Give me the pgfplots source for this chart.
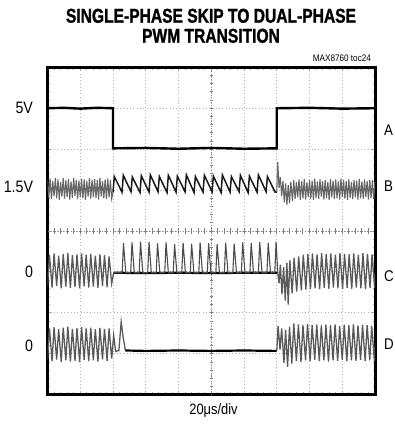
\documentclass[border=0pt]{standalone}
\usepackage{pgfplots}
\pgfplotsset{compat=1.18}
\usepackage{fontspec}
\setmainfont{Liberation Sans}
\newfontfamily\titlefont{Liberation Sans}[FakeStretch=0.78, BoldFeatures={FakeBold=1.2}]
\newfontfamily\narrowfont{Liberation Sans}[FakeStretch=0.86]

\begin{document}
\begin{tikzpicture}
\useasboundingbox (0pt,0pt) rectangle (395pt,426pt);
\begin{axis}[
  at={(47.5pt,31.3pt)}, anchor=south west,
  width=327.5pt, height=327.4pt, scale only axis,
  xmin=0, xmax=10, ymin=0, ymax=8,
  xtick={0,...,10}, ytick={0,...,8},
  xticklabels={}, yticklabels={},
  minor x tick num=4, minor y tick num=4,
  tick align=inside, major tick length=4pt, minor tick length=2.5pt,
  tick style={black!35, line width=0.9pt},
  grid=major,
  major grid style={black!30, line width=0.9pt, dash pattern=on 0.9pt off 2.4pt},
  axis line style={line width=3pt},
  clip=true,
]
% graticule centre lines with their sub-division marks
\draw[black!50, line width=1pt, dash pattern=on 1pt off 1.6pt] (axis cs:5,0) -- (axis cs:5,8);
\draw[black!50, line width=1pt, dash pattern=on 1pt off 1.6pt] (axis cs:0,4) -- (axis cs:10,4);
\pgfplotsinvokeforeach{0.2,0.4,...,9.8}{\draw[black!50, line width=0.9pt] (axis cs:#1,3.93) -- (axis cs:#1,4.07);}
\pgfplotsinvokeforeach{0.2,0.4,...,7.8}{\draw[black!50, line width=0.9pt] (axis cs:4.95,#1) -- (axis cs:5.05,#1);}

% A: mode control
\addplot[black, line width=2.4pt] coordinates {
(0,7.00)(0.5,7.01)(1,6.99)(1.5,7.01)(2.00,7.00)(2.00,6.02)(3,6.03)(4,6.01)(5,6.03)(6,6.01)(7.00,6.02)
(7.00,7.00)(8,7.01)(9,6.99)(10,7.00)};

% B: output ripple
\addplot[black!60, line width=1.1pt] coordinates {
(0.00,5.25)(0.04,4.82)(0.08,5.28)(0.12,4.78)(0.16,5.22)(0.20,4.85)(0.24,5.30)(0.28,4.80)(0.32,5.26)(0.36,4.76)
(0.40,5.20)(0.44,4.84)(0.48,5.29)(0.52,4.79)(0.56,5.24)(0.60,4.83)(0.64,5.27)(0.68,4.77)(0.72,5.21)(0.76,4.81)
(0.80,5.30)(0.84,4.86)(0.88,5.25)(0.92,4.78)(0.96,5.23)(1.00,4.82)(1.04,5.28)(1.08,4.80)(1.12,5.26)(1.16,4.76)
(1.20,5.22)(1.24,4.84)(1.28,5.29)(1.32,4.79)(1.36,5.25)(1.40,4.83)(1.44,5.27)(1.48,4.81)(1.52,5.24)(1.56,4.77)
(1.60,5.30)(1.64,4.85)(1.68,5.22)(1.72,4.80)(1.76,5.26)(1.80,4.78)(1.84,5.28)(1.88,4.82)(1.92,5.25)(1.96,4.79)(2.00,4.95)};
\addplot[black!90, line width=1.5pt] coordinates {
(2.00,4.95)(2.04,5.33)(2.275,4.95)(2.315,5.36)(2.55,4.96)(2.59,5.32)(2.825,4.94)(2.865,5.35)(3.10,4.95)(3.14,5.37)
(3.375,4.96)(3.415,5.33)(3.65,4.94)(3.69,5.36)(3.925,4.95)(3.965,5.34)(4.20,4.96)(4.24,5.37)(4.475,4.94)(4.515,5.33)
(4.75,4.95)(4.79,5.36)(5.025,4.96)(5.065,5.34)(5.30,4.94)(5.34,5.37)(5.575,4.95)(5.615,5.33)(5.85,4.96)(5.89,5.36)
(6.125,4.94)(6.165,5.34)(6.40,4.95)(6.44,5.37)(6.675,4.96)(6.715,5.33)(6.95,4.95)(7.00,4.95)};
\addplot[black!60, line width=1.1pt] coordinates {
(7.00,4.95)(7.03,5.69)(7.07,5.05)(7.11,5.32)(7.15,4.86)(7.19,5.22)(7.23,4.70)(7.27,5.16)(7.31,4.64)(7.35,5.12)
(7.39,4.68)(7.43,5.20)(7.48,4.74)
(7.52,5.24)(7.56,4.78)(7.60,5.20)(7.64,4.82)(7.68,5.26)(7.72,4.76)(7.76,5.22)(7.80,4.80)(7.84,5.27)(7.88,4.77)
(7.92,5.19)(7.96,4.83)(8.00,5.25)(8.04,4.79)(8.08,5.23)(8.12,4.76)(8.16,5.28)(8.20,4.81)(8.24,5.21)(8.28,4.78)
(8.32,5.26)(8.36,4.84)(8.40,5.22)(8.44,4.77)(8.48,5.25)(8.52,4.80)(8.56,5.20)(8.60,4.76)(8.64,5.27)(8.68,4.82)
(8.72,5.23)(8.76,4.78)(8.80,5.26)(8.84,4.80)(8.88,5.21)(8.92,4.77)(8.96,5.28)(9.00,4.83)(9.04,5.24)(9.08,4.79)
(9.12,5.22)(9.16,4.76)(9.20,5.26)(9.24,4.81)(9.28,5.20)(9.32,4.78)(9.36,5.25)(9.40,4.82)(9.44,5.23)(9.48,4.77)
(9.52,5.27)(9.56,4.80)(9.60,5.21)(9.64,4.79)(9.68,5.26)(9.72,4.83)(9.76,5.22)(9.80,4.77)(9.84,5.25)(9.88,4.80)
(9.92,5.24)(9.96,4.78)(10.00,5.20)};

% C: phase 1 inductor current
\addplot[black!65, line width=1.3pt] coordinates {
(0.00,2.65)(0.06,3.42)(0.14,2.62)(0.20,3.45)(0.28,2.66)(0.34,3.40)(0.42,2.60)(0.48,3.44)(0.56,2.64)(0.62,3.46)
(0.70,2.61)(0.76,3.41)(0.84,2.63)(0.90,3.43)(0.98,2.60)(1.04,3.45)(1.12,2.65)(1.18,3.42)(1.26,2.62)(1.32,3.44)
(1.40,2.64)(1.46,3.40)(1.54,2.61)(1.60,3.43)(1.68,2.66)(1.74,3.41)(1.82,2.63)(1.88,3.38)(1.96,2.72)(2.02,2.98)};
\addplot[black, line width=2.2pt] coordinates {
(2.02,2.98)(3,2.97)(4,2.98)(5,2.97)(6,2.98)(7.03,2.98)};
\addplot[black!70, line width=1.1pt] coordinates {
(2.02,2.98)(2.28,2.98)(2.32,3.70)(2.39,2.98)(2.54,2.98)(2.58,3.72)(2.65,2.98)(2.80,2.98)(2.84,3.74)(2.91,2.98)
(3.06,2.98)(3.10,3.73)(3.17,2.98)(3.32,2.98)(3.36,3.70)(3.43,2.98)(3.58,2.98)(3.62,3.72)(3.69,2.98)(3.84,2.98)
(3.88,3.68)(3.95,2.98)(4.10,2.98)(4.14,3.71)(4.21,2.98)(4.36,2.98)(4.40,3.69)(4.47,2.98)(4.62,2.98)(4.66,3.72)
(4.73,2.98)(4.88,2.98)(4.92,3.70)(4.99,2.98)(5.14,2.98)(5.18,3.68)(5.25,2.98)(5.40,2.98)(5.44,3.71)(5.51,2.98)
(5.66,2.98)(5.70,3.69)(5.77,2.98)(5.92,2.98)(5.96,3.72)(6.03,2.98)(6.18,2.98)(6.22,3.70)(6.29,2.98)(6.44,2.98)
(6.48,3.73)(6.55,2.98)(6.70,2.98)(6.74,3.71)(6.81,2.98)(6.94,2.98)(6.98,3.74)(7.03,2.98)};
\addplot[black!65, line width=1.3pt] coordinates {
(7.03,2.98)(7.07,2.72)(7.11,3.18)(7.16,2.45)(7.21,3.12)(7.26,2.30)(7.31,3.22)(7.35,2.20)(7.40,3.28)(7.47,2.48)
(7.53,3.34)(7.61,2.52)(7.67,3.38)(7.75,2.55)(7.81,3.42)(7.89,2.57)(7.95,3.44)(8.03,2.58)(8.09,3.45)(8.17,2.60)
(8.23,3.43)(8.31,2.58)(8.37,3.46)(8.45,2.61)(8.51,3.44)(8.59,2.59)(8.65,3.45)(8.73,2.62)(8.79,3.42)(8.87,2.60)
(8.93,3.46)(9.01,2.58)(9.07,3.44)(9.15,2.61)(9.21,3.43)(9.29,2.59)(9.35,3.45)(9.43,2.62)(9.49,3.42)(9.57,2.60)
(9.63,3.46)(9.71,2.58)(9.77,3.44)(9.85,2.61)(9.91,3.43)(9.99,2.60)(10.05,3.40)};

% D: phase 2 inductor current
\addplot[black!65, line width=1.3pt] coordinates {
(0.00,0.85)(0.06,1.62)(0.14,0.82)(0.20,1.65)(0.28,0.86)(0.34,1.60)(0.42,0.80)(0.48,1.64)(0.56,0.84)(0.62,1.66)
(0.70,0.81)(0.76,1.61)(0.84,0.83)(0.90,1.63)(0.98,0.80)(1.04,1.65)(1.12,0.85)(1.18,1.62)(1.26,0.82)(1.32,1.64)
(1.40,0.84)(1.46,1.60)(1.54,0.81)(1.60,1.63)(1.68,0.86)(1.74,1.61)(1.82,0.83)(1.88,1.62)(1.96,0.88)(2.02,1.45)
(2.08,1.06)(2.18,1.08)(2.25,1.78)(2.31,1.40)(2.38,1.08)};
\addplot[black, line width=2.2pt] coordinates {
(2.38,1.08)(3,1.07)(4,1.08)(5,1.07)(6,1.08)(7.00,1.07)};
\addplot[black!65, line width=1.3pt] coordinates {
(7.00,1.07)(7.04,1.68)(7.10,1.10)(7.15,1.62)(7.22,0.78)(7.27,1.58)(7.33,0.68)(7.39,1.66)(7.46,0.76)(7.52,1.74)
(7.60,0.82)(7.66,1.72)(7.74,0.80)(7.80,1.70)(7.88,0.84)(7.94,1.73)(8.02,0.82)(8.08,1.70)(8.16,0.85)(8.22,1.72)
(8.30,0.82)(8.36,1.69)(8.44,0.84)(8.50,1.71)(8.58,0.81)(8.64,1.70)(8.72,0.84)(8.78,1.72)(8.86,0.83)(8.92,1.68)
(9.00,0.85)(9.06,1.71)(9.14,0.82)(9.20,1.70)(9.28,0.84)(9.34,1.72)(9.42,0.83)(9.48,1.69)(9.56,0.85)(9.62,1.71)
(9.70,0.82)(9.76,1.70)(9.84,0.84)(9.90,1.68)(9.98,0.83)(10.04,1.66)};
\end{axis}

% titles
\node[anchor=base, font={\titlefont\bfseries\fontsize{20}{22}\selectfont}] at (211pt,403.3pt) {SINGLE-PHASE SKIP TO DUAL-PHASE};
\node[anchor=base, font={\titlefont\bfseries\fontsize{20}{22}\selectfont}] at (211pt,383.3pt) {PWM TRANSITION};
\node[anchor=base east, font={\narrowfont\fontsize{9.5}{11}\selectfont}] at (374.5pt,364pt) {MAX8760 toc24};

% channel offsets (left)
\begin{scope}[every node/.style={font={\narrowfont\fontsize{16.5}{18}\selectfont}}]
\node[anchor=base east] at (36.5pt,312pt) {5V};
\node[anchor=base east] at (36.5pt,233pt) {1.5V};
\node[anchor=base east] at (36.5pt,148pt) {0};
\node[anchor=base east] at (36.5pt,74.5pt) {0};
\end{scope}
% channel names (right)
\begin{scope}[every node/.style={font={\narrowfont\fontsize{15.5}{17}\selectfont}, inner sep=0pt}]
\node[anchor=base west] at (384pt,290pt) {A};
\node[anchor=base west] at (384pt,234pt) {B};
\node[anchor=base west] at (384pt,144pt) {C};
\node[anchor=base west] at (384pt,76pt) {D};
\end{scope}

\node[anchor=base, font={\narrowfont\fontsize{15}{17}\selectfont}] at (213.5pt,11pt) {20μs/div};
\end{tikzpicture}
\end{document}
